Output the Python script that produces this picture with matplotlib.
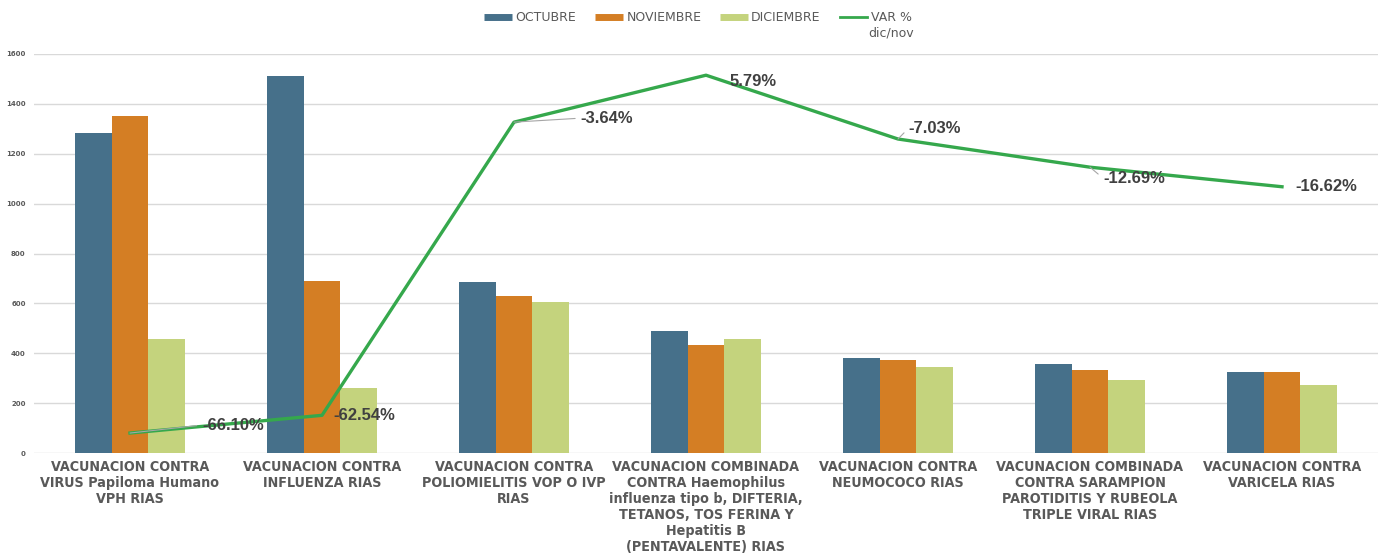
import matplotlib
matplotlib.use("Agg")
import matplotlib.pyplot as plt
from matplotlib.lines import Line2D
from matplotlib import font_manager
import numpy as np

categorias = [
    "VACUNACION CONTRA\nVIRUS Papiloma Humano\nVPH RIAS",
    "VACUNACION CONTRA\nINFLUENZA RIAS",
    "VACUNACION CONTRA\nPOLIOMIELITIS VOP O IVP\nRIAS",
    "VACUNACION COMBINADA\nCONTRA Haemophilus\ninfluenza tipo b, DIFTERIA,\nTETANOS, TOS FERINA Y\nHepatitis B\n(PENTAVALENTE) RIAS",
    "VACUNACION CONTRA\nNEUMOCOCO RIAS",
    "VACUNACION COMBINADA\nCONTRA SARAMPION\nPAROTIDITIS Y RUBEOLA\nTRIPLE VIRAL RIAS",
    "VACUNACION CONTRA\nVARICELA RIAS",
]
octubre = [1283, 1512, 686, 489, 380, 356, 325]
noviembre = [1351, 690, 630, 433, 372, 333, 325]
diciembre = [458, 259, 607, 458, 346, 291, 271]
var_pct = [-66.10, -62.54, -3.64, 5.79, -7.03, -12.69, -16.62]
y_ticks = [0, 200, 400, 600, 800, 1000, 1200, 1400, 1600]

# label offsets (pixels) and whether a leader line is drawn
offsets = [(103, 8), (42, 0), (93, 4), (47, -6), (37, 11), (44, -11), (44, 0)]
leaders = [True, False, True, False, True, True, False]

c_oct = "#46708a"
c_nov = "#d47e24"
c_dic = "#c4d37d"
c_var = "#35a84c"
gris = "#595959"

# narrow font for category labels if there is one
cond = font_manager.FontProperties(family="DejaVu Sans", stretch="condensed", weight="bold")
if "Condensed" in font_manager.findfont(cond):
    cat_font = dict(family="DejaVu Sans", fontstretch="condensed", fontsize=10.3)
else:
    cat_font = dict(family="Liberation Sans", fontsize=10)

fig = plt.figure(figsize=(13.84, 5.57), dpi=100)
ax = fig.add_axes([34 / 1384, 1 - 453 / 557, 1344 / 1384, 399 / 557])

x = np.arange(len(categorias))
w = 0.19
ax.bar(x - w, octubre, w, color=c_oct)
ax.bar(x, noviembre, w, color=c_nov)
ax.bar(x + w, diciembre, w, color=c_dic)

ax.set_xlim(-0.5, len(categorias) - 0.5)
ax.set_ylim(0, 1600)
ax.set_yticks(y_ticks)
ax.set_yticklabels([str(t) for t in y_ticks], fontsize=5, color=gris, fontweight="bold")
ax.yaxis.grid(True, color="#d9d9d9", lw=1)
ax.set_axisbelow(True)
for s in ax.spines.values():
    s.set_visible(False)
ax.tick_params(axis="both", length=0)
ax.tick_params(axis="y", pad=6)
ax.set_xticks(x)
ax.set_xticklabels(categorias, color=gris, fontweight="bold", linespacing=1.19, **cat_font)
ax.tick_params(axis="x", pad=5)

ax2 = ax.twinx()
ax2.set_ylim(-70.11, 10.05)
ax2.plot(x, var_pct, color=c_var, lw=2.4)
ax2.set_axis_off()

for i, v in enumerate(var_pct):
    dx, dy = offsets[i]
    props = None
    if leaders[i]:
        props = dict(arrowstyle="-", color="#a6a6a6", lw=0.8, shrinkA=2, shrinkB=0,
                     relpos=(0, 0.5))
    ax2.annotate(f"{v:.2f}%", (x[i], v), xytext=(dx, dy), textcoords="offset pixels",
                 ha="center", va="center", fontsize=12, fontweight="bold",
                 family="Liberation Sans", color="#404040", arrowprops=props)

handles = [
    Line2D([], [], color=c_oct, lw=5, solid_capstyle="butt"),
    Line2D([], [], color=c_nov, lw=5, solid_capstyle="butt"),
    Line2D([], [], color=c_dic, lw=5, solid_capstyle="butt"),
    Line2D([], [], color=c_var, lw=2),
]
labels = ["OCTUBRE", "NOVIEMBRE", "DICIEMBRE", "VAR %"]
leg = fig.legend(handles, labels, loc="upper center", bbox_to_anchor=(0.5 + 6 / 1384, 1.0),
                 ncol=4, frameon=False, fontsize=9, handlelength=2.2,
                 handletextpad=0.3, columnspacing=1.5)
for t in leg.get_texts():
    t.set_color(gris)

# second line of the VAR % legend entry
fig.canvas.draw()
bb = leg.get_texts()[-1].get_window_extent()
fig.text((bb.x1 + 2) / 1384, (bb.y0 - 2) / 557, "dic/nov", ha="right", va="top",
         fontsize=9, color=gris)

fig.savefig("out.png", dpi=100)
